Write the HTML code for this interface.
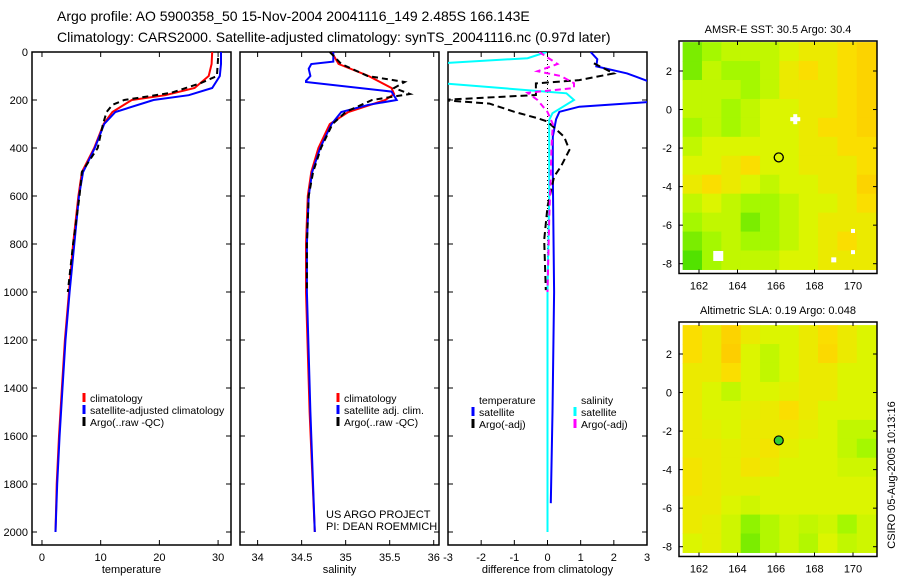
<!DOCTYPE html>
<html><head><meta charset="utf-8">
<style>
html,body{margin:0;padding:0;background:#fff;}
svg{display:block;font-family:"Liberation Sans",sans-serif;}
</style></head>
<body>
<svg id="fig" width="900" height="580" viewBox="0 0 900 580" xmlns="http://www.w3.org/2000/svg">
<text x="57" y="21" font-size="14">Argo profile: AO 5900358_50 15-Nov-2004 20041116_149 2.485S 166.143E</text>
<text x="57" y="42" font-size="14">Climatology: CARS2000. Satellite-adjusted climatology: synTS_20041116.nc (0.97d later)</text>
<g id="g"></g>
<text transform="translate(895,475) rotate(-90)" text-anchor="middle" font-size="11">CSIRO 05-Aug-2005 10:13:16</text>
</svg>
<script>
// ---- profile data ----
const tDepth=[0,50,100,150,180,200,250,300,400,500,600,800,1000,1200,1400,1600,1800,2000];
const tClim=[29.0,28.9,28.4,26.0,21,15.3,12.0,10.5,8.9,6.8,6.2,5.3,4.6,3.9,3.4,2.9,2.5,2.3];
const tSat=[30.5,30.5,30.3,29.0,25,19.0,12.5,10.6,9.0,7.0,6.3,5.5,4.7,4.0,3.5,3.0,2.6,2.3];
const tArgoDepth=[25,100,130,170,200,220,250,300,400,500,600,800,1000];
const tArgo=[30.0,29.8,27.0,22.0,14.0,12.0,11.0,10.4,9.5,6.8,6.4,5.3,4.4];
const sDepth=[0,50,100,150,175,200,250,300,400,500,600,800,1000,1500,2000];
const sClim=[34.84,34.92,35.26,35.52,35.55,35.45,35.03,34.82,34.69,34.61,34.57,34.55,34.55,34.59,34.65];
const sSatDepth=[0,40,50,70,100,120,125,165,200,220,250,300,400,500,600,800,1000,1500,2000];
const sSat=[34.86,34.86,34.61,34.58,34.60,34.55,34.55,35.52,35.58,35.26,34.95,34.84,34.71,34.62,34.58,34.56,34.56,34.60,34.65];
const sArgoDepth=[0,50,100,125,150,175,200,250,300,400,500,600,800,1000];
const sArgo=[34.82,34.95,35.25,35.67,35.55,35.73,35.30,35.0,34.85,34.72,34.63,34.58,34.56,34.56];
const dTSatDepth=[0,30,60,89,130,207,228,249,280,353,506,1000,1500,1880];
const dTSat=[1.3,1.5,1.47,2.4,3.2,3.2,0.96,0.36,0.26,0.16,0.16,0.2,0.15,0.1];
const dTArgoDepth=[47,89,117,131,179,200,215,249,276,290,353,408,478,519,644,783,992];
const dTArgo=[1.4,2.0,0.96,-0.35,-0.35,-3.2,-1.75,-1.0,-0.3,0,0.5,0.66,0.4,0.2,0,-0.1,-0.05];
const dSSatDepth=[0,26,47,130,172,200,255,283,600,1000,2000];
const dSSat=[-0.03,-0.6,-3.2,-3.2,0.57,0.8,0.15,0.05,0.05,0.0,0.0];
const dSArgoDepth=[0,50,80,100,130,150,170,200,250,300,400,500,700,1000];
const dSArgo=[-0.25,0.3,-0.3,0.4,0.8,0.8,-0.6,-0.3,0,0.16,0.12,0.1,0.05,0.0];
const depthTicks=[0,200,400,600,800,1000,1200,1400,1600,1800,2000];
const tTicks=[0,10,20,30];
const sTicks=[34,34.5,35,35.5,36];
const dTicks=[-3,-2,-1,0,1,2,3];
// ---- map data (rows top->bottom, cols west->east, 0=green..1=orange) ----
const sstGrid=[
[0.2,0.3,0.4,0.4,0.4,0.5,0.6,0.6,0.7,0.8],
[0.2,0.4,0.3,0.3,0.4,0.6,0.7,0.6,0.7,0.8],
[0.4,0.4,0.4,0.3,0.4,0.6,0.6,0.6,0.7,0.8],
[0.4,0.4,0.3,0.4,0.5,0.5,0.6,0.6,0.7,0.8],
[0.3,0.4,0.3,0.4,0.5,0.5,0.6,0.7,0.7,0.8],
[0.4,0.5,0.5,0.5,0.5,0.5,0.6,0.6,0.7,0.7],
[0.5,0.5,0.6,0.7,0.5,0.5,0.6,0.6,0.6,0.7],
[0.6,0.7,0.6,0.5,0.4,0.5,0.5,0.6,0.6,0.8],
[0.4,0.5,0.4,0.3,0.3,0.4,0.5,0.5,0.6,0.7],
[0.3,0.4,0.4,0.2,0.3,0.4,0.5,0.6,0.6,0.6],
[0.2,0.3,0.4,0.3,0.3,0.4,0.5,0.6,0.7,0.6],
[0.1,0.3,0.4,0.4,0.4,0.5,0.5,0.6,0.6,0.6]];
const slaGrid=[
[0.7,0.6,0.8,0.6,0.5,0.5,0.6,0.7,0.6,0.5],
[0.7,0.6,0.85,0.5,0.4,0.5,0.6,0.75,0.6,0.5],
[0.6,0.6,0.7,0.5,0.4,0.5,0.6,0.6,0.5,0.5],
[0.6,0.5,0.4,0.5,0.5,0.55,0.6,0.6,0.5,0.5],
[0.6,0.5,0.5,0.55,0.6,0.7,0.6,0.5,0.5,0.5],
[0.6,0.55,0.5,0.6,0.6,0.6,0.55,0.5,0.4,0.4],
[0.6,0.6,0.55,0.6,0.65,0.55,0.5,0.5,0.4,0.3],
[0.65,0.6,0.55,0.65,0.6,0.5,0.5,0.5,0.45,0.45],
[0.65,0.6,0.55,0.55,0.5,0.5,0.5,0.5,0.5,0.5],
[0.6,0.6,0.5,0.45,0.5,0.5,0.5,0.5,0.5,0.5],
[0.6,0.55,0.45,0.25,0.35,0.45,0.4,0.45,0.3,0.45],
[0.5,0.55,0.45,0.2,0.35,0.45,0.35,0.5,0.4,0.45]];
const lonTicks=[162,164,166,168,170];
const latTicks=[2,0,-2,-4,-6,-8];
const argoLon=166.143, argoLat=-2.485;

const NS='http://www.w3.org/2000/svg';
const G=document.getElementById('g');
function el(tag,attrs,parent){const e=document.createElementNS(NS,tag);for(const k in attrs)e.setAttribute(k,attrs[k]);(parent||G).appendChild(e);return e;}
function txt(s,x,y,attrs,name){const e=el('text',Object.assign({x:x,y:y,'font-size':11},attrs||{}));e.textContent=s;


return e;}

const top0=52,bot=545,L=[32,240,448],W=199;
const yD=d=>top0+d*0.24;
function panel(i,xmin,xmax,ticks,label,name,showY){
  const x0=L[i],x1=L[i]+W;
  const xs=v=>x0+(v-xmin)/(xmax-xmin)*W;
  const gp=el('g',{});
  
  
  const clip=el('clipPath',{id:'c'+i},gp);el('rect',{x:x0,y:top0,width:W,height:bot-top0},clip);
  el('rect',{x:x0,y:top0,width:W,height:bot-top0,fill:'none',stroke:'#000','stroke-width':1.5},gp);
  ticks.forEach(t=>{const x=xs(t);
    el('line',{x1:x,x2:x,y1:bot,y2:bot-5,stroke:'#000'},gp);el('line',{x1:x,x2:x,y1:top0,y2:top0+5,stroke:'#000'},gp);
    txt(String(t),x,561,{'text-anchor':'middle'},'x-tick-label');});
  depthTicks.forEach(d=>{const y=yD(d);
    el('line',{x1:x0,x2:x0+5,y1:y,y2:y,stroke:'#000'},gp);el('line',{x1:x1,x2:x1-5,y1:y,y2:y,stroke:'#000'},gp);
    if(showY)txt(String(d),28,y+4,{'text-anchor':'end'},'y-tick-label');});
  txt(label,(x0+x1)/2,573,{'text-anchor':'middle'},'x-axis-title');
  return {xs:xs,g:gp,clip:'url(#c'+i+')'};
}
function line(p,depths,vals,color,w,dash,name){
  const pts=depths.map((d,k)=>p.xs(vals[k]).toFixed(1)+','+yD(d).toFixed(1)).join(' ');
  const e=el('polyline',{points:pts,fill:'none',stroke:color,'stroke-width':w,'clip-path':p.clip},p.g);
  if(dash)e.setAttribute('stroke-dasharray',dash);
  
  
}
function legend(x,y,items){items.forEach((it,k)=>{
  if(it[1])el('line',{x1:x,x2:x,y1:y+k*12-9,y2:y+k*12,stroke:it[1],'stroke-width':3});
  txt(it[0],x+6,y+k*12,{'font-size':10.5},'legend-entry');});}

const p1=panel(0,-1.7,32.2,tTicks,'temperature','temperature-panel',true);
line(p1,tDepth,tClim,'#f00',2,null,'temp-climatology-line');
line(p1,tDepth,tSat,'#00f',2,null,'temp-satellite-line');
line(p1,tArgoDepth,tArgo,'#000',2,'6,4','temp-argo-line');
legend(84,402,[['climatology','#f00'],['satellite-adjusted climatology','#00f'],['Argo(..raw -QC)','#000']]);

const p2=panel(1,33.8,36.06,sTicks,'salinity','salinity-panel',false);
line(p2,sDepth,sClim,'#f00',2,null,'sal-climatology-line');
line(p2,sSatDepth,sSat,'#00f',2,null,'sal-satellite-line');
line(p2,sArgoDepth,sArgo,'#000',2,'6,4','sal-argo-line');
legend(338,402,[['climatology','#f00'],['satellite adj. clim.','#00f'],['Argo(..raw -QC)','#000']]);
txt('US ARGO PROJECT',326,518,{},'project-credit');
txt('PI: DEAN ROEMMICH',326,530,{},'pi-credit');

const p3=panel(2,-3,3,dTicks,'difference from climatology','difference-panel',false);
el('line',{x1:p3.xs(0),x2:p3.xs(0),y1:top0,y2:530,stroke:'#000','stroke-dasharray':'1,3'},p3.g);
line(p3,dSSatDepth,dSSat,'#0ff',2,null,'sal-satellite-diff-line');
line(p3,dTSatDepth,dTSat,'#00f',2,null,'temp-satellite-diff-line');
line(p3,dTArgoDepth,dTArgo,'#000',2,'7,4','temp-argo-diff-line');
line(p3,dSArgoDepth,dSArgo,'#f0f',2,'6,4','sal-argo-diff-line');
legend(473,404,[['temperature',null],['satellite','#00f'],['Argo(-adj)','#000']]);
legend(575,404,[['salinity',null],['satellite','#0ff'],['Argo(-adj)','#f0f']]);

function cmap(v){const s=[[0,40,215,0],[0.3,165,248,0],[0.5,220,245,0],[0.7,250,222,0],[1,255,190,0]];
  for(let k=1;k<s.length;k++)if(v<=s[k][0]){const a=s[k-1],b=s[k],t=(v-a[0])/(b[0]-a[0]);
    return 'rgb('+[1,2,3].map(j=>Math.round(a[j]+(b[j]-a[j])*t)).join(',')+')';}
  return 'rgb(255,190,0)';}
function map(grid,boxTop,lat2y,title,name,filled){
  const gm=el('g',{});
  
  
  const lx=lon=>699+(lon-162)*19.25, ly=lat=>lat2y+(2-lat)*19.27;
  const lon0=161.15,lon1=171.2,lat0=3.5,lat1=-8.3;
  const nr=grid.length,nc=grid[0].length,cw=(lx(lon1)-lx(lon0))/nc,ch=(ly(lat1)-ly(lat0))/nr;
  grid.forEach((row,r)=>row.forEach((v,c)=>{
    const e=el('rect',{x:lx(lon0)+c*cw,y:ly(lat0)+r*ch,width:cw+0.5,height:ch+0.5,fill:cmap(v)},gm);
    
    }));
  const bb=ly(lat1)+4;
  el('rect',{x:679,y:boxTop,width:198,height:bb-boxTop,fill:'none',stroke:'#000','stroke-width':1.5},gm);
  lonTicks.forEach(t=>{const x=lx(t);el('line',{x1:x,x2:x,y1:bb,y2:bb-4,stroke:'#000'},gm);el('line',{x1:x,x2:x,y1:boxTop,y2:boxTop+4,stroke:'#000'},gm);
    txt(String(t),x,bb+16,{'text-anchor':'middle'},'map-lon-label');});
  latTicks.forEach(t=>{const y=ly(t);el('line',{x1:679,x2:683,y1:y,y2:y,stroke:'#000'},gm);el('line',{x1:877,x2:873,y1:y,y2:y,stroke:'#000'},gm);
    txt(String(t),672,y+4,{'text-anchor':'end'},'map-lat-label');});
  txt(title,778,boxTop-8,{'text-anchor':'middle'},'map-title');
  const m=el('circle',{cx:lx(argoLon),cy:ly(argoLat),r:4.5,fill:filled?'#3c3':'none',stroke:'#000','stroke-width':1.2},gm);
  
  
  return {lx:lx,ly:ly,g:gm};
}
const m1=map(sstGrid,41,71,'AMSR-E SST: 30.5 Argo: 30.4','sst-map',false);
[[167,-0.5,10,4],[167,-0.5,4,10],[163,-7.6,10,10],[169,-7.8,5,5],[170,-7.4,4,4],[170,-6.3,4,4]].forEach(w=>{
  el('rect',{x:m1.lx(w[0])-w[2]/2,y:m1.ly(w[1])-w[3]/2,width:w[2],height:w[3],fill:'#fff'},m1.g);});
el('circle',{cx:m1.lx(argoLon),cy:m1.ly(argoLat),r:4.5,fill:'none',stroke:'#000','stroke-width':1.2},m1.g);
map(slaGrid,322,354,'Altimetric SLA: 0.19 Argo: 0.048','sla-map',true);
</script>
</body></html>
